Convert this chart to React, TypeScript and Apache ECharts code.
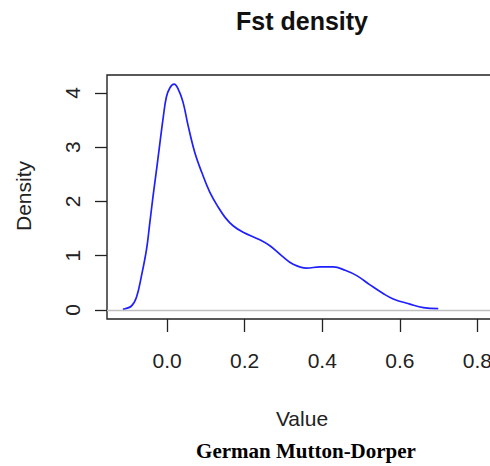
import React, { useEffect, useRef } from "react";
import * as echarts from "echarts";

const xValues = [-0.114, -0.092, -0.079, -0.066, -0.053, -0.045, -0.036, -0.027, -0.019, -0.010, -0.002, 0.007, 0.018, 0.028, 0.041, 0.054, 0.071, 0.089, 0.110, 0.132, 0.150, 0.170, 0.196, 0.239, 0.265, 0.295, 0.325, 0.360, 0.394, 0.428, 0.459, 0.489, 0.523, 0.557, 0.583, 0.626, 0.661, 0.699];
const densityValues = [0.01, 0.07, 0.23, 0.63, 1.12, 1.58, 2.11, 2.60, 3.05, 3.55, 3.92, 4.09, 4.16, 4.08, 3.83, 3.40, 2.91, 2.54, 2.17, 1.89, 1.70, 1.55, 1.43, 1.29, 1.18, 1.00, 0.84, 0.77, 0.79, 0.79, 0.73, 0.63, 0.46, 0.30, 0.20, 0.105, 0.04, 0.02];
const xTicks = [0, 0.2, 0.4, 0.6, 0.8];
const yTicks = [0, 1, 2, 3, 4];

const TITLE = "Fst density";
const X_NAME = "Value";
const Y_NAME = "Density";
const CAPTION = "German Mutton-Dorper";

export default function App() {
  const ref = useRef<HTMLDivElement>(null);
  useEffect(() => {
    if (!ref.current) return;
    const chart = echarts.init(ref.current, null, { renderer: "svg" });
    const sans = "'Liberation Sans', Arial, sans-serif";
    chart.setOption({
      animation: false,
      backgroundColor: "#ffffff",
      grid: { left: 107, top: 75, width: 389, height: 244, show: true, borderColor: "#222", borderWidth: 1.4, backgroundColor: "transparent" },
      xAxis: {
        type: "value",
        min: -0.155,
        max: 0.848,
        axisLine: { show: false, onZero: false },
        splitLine: { show: false },
        axisTick: { show: true, length: 13, customValues: xTicks, lineStyle: { color: "#222", width: 1.3 } },
        axisLabel: { customValues: xTicks, margin: 31, fontSize: 21, color: "#222", fontFamily: sans, formatter: (v: number) => v.toFixed(1) },
      },
      yAxis: {
        type: "value",
        min: -0.17,
        max: 4.33,
        axisLine: { show: false, onZero: false },
        splitLine: { show: false },
        axisTick: { show: true, length: 12, customValues: yTicks, lineStyle: { color: "#222", width: 1.3 } },
        axisLabel: { customValues: yTicks, margin: 24, rotate: 90, fontSize: 21, color: "#222", fontFamily: sans },
      },
      series: [
        {
          type: "line",
          data: xValues.map((x, i) => [x, densityValues[i]]),
          smooth: 0.4,
          showSymbol: false,
          lineStyle: { color: "#1f1fff", width: 1.7 },
          markLine: {
            silent: true,
            symbol: "none",
            label: { show: false },
            lineStyle: { color: "#c0c0c0", type: "solid", width: 1.3 },
            data: [{ yAxis: 0 }],
          },
          z: 3,
        },
      ],
      graphic: [
        { type: "text", x: 302, y: 21, style: { text: TITLE, fontSize: 25, fontWeight: "bold", fontFamily: sans, fill: "#111", textAlign: "center", textVerticalAlign: "middle" } },
        { type: "text", x: 302, y: 418, style: { text: X_NAME, fontSize: 21, fontFamily: sans, fill: "#222", textAlign: "center", textVerticalAlign: "middle" } },
        { type: "text", x: 23, y: 196, rotation: Math.PI / 2, style: { text: Y_NAME, fontSize: 21, fontFamily: sans, fill: "#222", textAlign: "center", textVerticalAlign: "middle" } },
        { type: "text", x: 306, y: 451, style: { text: CAPTION, fontSize: 21, fontWeight: "bold", fontFamily: "'Liberation Serif', 'Times New Roman', serif", fill: "#000", textAlign: "center", textVerticalAlign: "middle" } },
      ],
    });
    return () => chart.dispose();
  }, []);
  return <div ref={ref} style={{ position: "fixed", left: 0, top: 0, width: 510, height: 466 }} />;
}
